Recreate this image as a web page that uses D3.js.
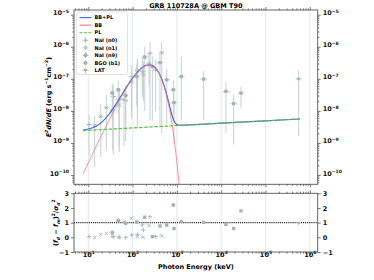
<!DOCTYPE html>
<html>
<head>
<meta charset="utf-8">
<script src="https://cdn.jsdelivr.net/npm/d3@7"></script>
<style>
  body { margin: 0; background: #fff; }
  svg { font-family: "DejaVu Sans", sans-serif; font-weight: bold; }
</style>
</head>
<body>
<svg id="chart" width="374" height="280"></svg>
<script>
// model curves (keV, erg s^-1 cm^-2)
const modelE = [7.6, 10, 15, 20, 30, 40, 50, 70, 100, 150, 200, 250, 300, 400, 500, 600, 700, 800, 900, 1000, 1100, 1150, 1500, 1e4, 1e5, 6e5];
const bbFlux = [1.08e-10, 2.41e-10, 7.80e-10, 1.77e-9, 5.46e-9, 1.18e-8, 2.10e-8, 4.75e-8, 1.02e-7, 1.98e-7, 2.59e-7, 2.69e-7, 2.41e-7, 1.43e-7, 6.58e-8, 2.58e-8, 9.0e-9, 2.9e-9, 8.8e-10, 2.5e-10, 7.0e-11, 3.6e-11, 0, 0, 0, 0];
const plFlux = [2.43e-9, 2.48e-9, 2.56e-9, 2.62e-9, 2.69e-9, 2.75e-9, 2.80e-9, 2.87e-9, 2.95e-9, 3.03e-9, 3.10e-9, 3.15e-9, 3.19e-9, 3.26e-9, 3.32e-9, 3.36e-9, 3.40e-9, 3.43e-9, 3.46e-9, 3.49e-9, 3.52e-9, 3.53e-9, 3.60e-9, 4.14e-9, 4.91e-9, 5.61e-9];

// data points: [E, flux, flux low, flux high, residual]
const n0Data = [
  [10.4, 3.77e-9, 3.85e-10, 7.7e-9, 0.05],
  [36.6, 2.83e-8, 4.4e-10, 6.5e-8, 0.05],
  [50, 2.24e-8, 5.1e-10, 4.56e-8, 0.0],
  [70, 2.08e-8, 1.12e-9, 4.56e-8, 0.0],
  [95.5, 1.18e-7, 1.0e-8, 2.7e-7, 0.15],
  [128, 1.9e-7, 3.0e-9, 4.5e-7, 0.2],
  [166, 1.68e-7, 3.0e-8, 4.5e-7, 0.84],
  [175, 1.33e-7, 2.0e-8, 3.0e-7, 0.5],
  [247, 6.25e-7, 5.0e-9, 1.4e-6, 1.4],
  [332, 1.9e-7, 1.0e-8, 4.0e-7, 0.05]
];
const n1Data = [
  [13.9, 3.58e-9, 1.76e-10, 7.0e-9, 0.0],
  [19.1, 6.8e-9, 3.58e-10, 1.57e-8, 0.2],
  [25.5, 1.26e-8, 5.5e-10, 3.2e-8, 0.27],
  [35.6, 1.02e-8, 6.0e-10, 2.5e-8, 0.05],
  [49.3, 1.5e-8, 7.0e-10, 3.5e-8, 0.0],
  [64, 2.24e-8, 8.0e-10, 5.0e-8, 1.08],
  [93.5, 8.0e-8, 6.0e-9, 1.8e-7, 1.3],
  [128, 1.65e-7, 1.2e-8, 3.5e-7, 0.05],
  [172, 1.68e-7, 2.5e-8, 4.0e-7, 0.0],
  [234, 3.06e-7, 6.0e-8, 6.0e-7, 0.8],
  [454, 6.5e-7, 2.0e-9, 1.4e-6, 0.1]
];
const n9Data = [
  [34.8, 3.6e-8, 5.0e-9, 7.0e-8, 0.32],
  [47.5, 4.56e-8, 8.0e-9, 9.0e-8, 1.15],
  [69.8, 3.0e-8, 4.0e-9, 6.5e-8, 0.96],
  [124, 1.18e-7, 1.5e-8, 2.8e-7, 1.05],
  [830, 4.56e-8, 8.0e-9, 9.0e-8, 2.2]
];
const bgoData = [
  [188, 4.8e-7, 1.0e-8, 1.0e-6, 1.37],
  [279, 2.4e-7, 5.0e-9, 5.0e-7, 0.05],
  [415, 3.2e-7, 3.0e-9, 7.0e-7, 0.77],
  [589, 9.3e-8, 4.0e-9, 2.0e-7, 0.84],
  [861, 1.81e-8, 9.0e-10, 4.0e-8, 0.6],
  [1257, 1.18e-7, 5.0e-9, 4.9e-7, 1.07],
  [4027, 9.8e-8, 5.1e-9, 1.8e-7, 1.02],
  [12800, 4.05e-8, 2.08e-9, 8.2e-8, 0.89],
  [19100, 1.68e-8, 9.1e-10, 3.2e-8, 0.6],
  [28000, 3.6e-8, 1.24e-8, 5.8e-8, 1.8]
];
const latData = [
  [561000, 9.8e-8, 1.64e-9, 1.8e-7, 0.96]
];

const detectors = [
  { name: 'NaI (n0)', data: n0Data, marker: '+', binDex: 0.06 },
  { name: 'NaI (n1)', data: n1Data, marker: 'x', binDex: 0.06 },
  { name: 'NaI (n9)', data: n9Data, marker: 'o', binDex: 0.06 },
  { name: 'BGO (b1)', data: bgoData, marker: 's', binDex: 0.08 },
  { name: 'LAT', data: latData, marker: 'v', binDex: 0.07 }
];

const energyTicks = [1e1, 1e2, 1e3, 1e4, 1e5, 1e6];
const energyExp = ['1', '2', '3', '4', '5', '6'];
const fluxTicks = [1e-10, 1e-9, 1e-8, 1e-7, 1e-6, 1e-5];
const fluxExp = ['\u221210', '\u22129', '\u22128', '\u22127', '\u22126', '\u22125'];
const resTicks = [-1, 0, 1, 2, 3];

const svg = d3.select('#chart');
const X0 = 74, X1 = 317.7, T0 = 10, T1 = 184.3, R0 = 193.3, R1 = 252;
const FS = 6.5;
const spineCol = '#555', markCol = '#a3b3b3', errCol = '#c6d1d1';

const x = d3.scaleLog().domain([4.75, 1.51e6]).range([X0, X1]);
const y = d3.scaleLog().domain([5.15e-11, 1.4e-5]).range([T1, T0]);
const yr = d3.scaleLinear().domain([-1, 3]).range([R1, R0]);

const defs = svg.append('defs');
defs.append('clipPath').attr('id', 'clipTop').append('rect')
  .attr('x', X0).attr('y', T0).attr('width', X1 - X0).attr('height', T1 - T0);
defs.append('clipPath').attr('id', 'clipRes').append('rect')
  .attr('x', X0).attr('y', R0).attr('width', X1 - X0).attr('height', R1 - R0);

// vertical grid
[[T0, T1], [R0, R1]].forEach(([a, b]) => {
  svg.append('g').selectAll('line').data(energyTicks).enter().append('line')
    .attr('x1', d => x(d)).attr('x2', d => x(d)).attr('y1', a).attr('y2', b)
    .attr('stroke', '#dde3e3').attr('stroke-width', 0.8);
});

function markerPath(type) {
  const s = 2.1;
  if (type === '+') return `M${-s},0H${s}M0,${-s}V${s}`;
  if (type === 'x') return `M${-s * 0.8},${-s * 0.8}L${s * 0.8},${s * 0.8}M${-s * 0.8},${s * 0.8}L${s * 0.8},${-s * 0.8}`;
  if (type === 'o') return d3.symbol(d3.symbolCircle, 13)();
  if (type === 's') return d3.symbol(d3.symbolSquare, 11)();
  return `M${-s},${-s * 0.7}L${s},${-s * 0.7}L0,${s}Z`;
}
function styleMarker(sel, type) {
  if (type === '+' || type === 'x') {
    sel.attr('fill', 'none').attr('stroke', markCol).attr('stroke-width', 0.9);
  } else {
    sel.attr('fill', markCol).attr('stroke', 'none');
  }
}

// data in the top panel
const gData = svg.append('g').attr('clip-path', 'url(#clipTop)');
detectors.forEach(det => {
  const g = gData.append('g');
  g.selectAll('line.ey').data(det.data).enter().append('line')
    .attr('x1', d => x(d[0])).attr('x2', d => x(d[0]))
    .attr('y1', d => y(d[2])).attr('y2', d => y(d[3]))
    .attr('stroke', errCol).attr('stroke-width', 1);
  g.selectAll('line.ex').data(det.data).enter().append('line')
    .attr('x1', d => x(d[0] / Math.pow(10, det.binDex))).attr('x2', d => x(d[0] * Math.pow(10, det.binDex)))
    .attr('y1', d => y(d[1])).attr('y2', d => y(d[1]))
    .attr('stroke', errCol).attr('stroke-width', 1);
  g.selectAll('path').data(det.data).enter().append('path')
    .attr('d', markerPath(det.marker))
    .attr('transform', d => `translate(${x(d[0])},${y(d[1])})`)
    .call(styleMarker, det.marker);
});

// model curves
const model = modelE.map((e, i) => ({ e: e, bb: bbFlux[i], pl: plFlux[i], tot: bbFlux[i] + plFlux[i] }));
const gModel = svg.append('g').attr('clip-path', 'url(#clipTop)');
const line = key => d3.line().x(d => x(d.e)).y(d => y(d[key])).curve(d3.curveMonotoneX);
gModel.append('path').datum(model).attr('d', line('tot'))
  .attr('fill', 'none').attr('stroke', '#4169e1').attr('stroke-width', 1.2);
gModel.append('path').datum(model.filter(d => d.bb > 0)).attr('d', line('bb'))
  .attr('fill', 'none').attr('stroke', '#f07878').attr('stroke-width', 0.9).attr('stroke-opacity', 0.85);
gModel.append('path').datum(model).attr('d', line('pl'))
  .attr('fill', 'none').attr('stroke', '#5cbf45').attr('stroke-width', 1.2).attr('stroke-dasharray', '3.5,1.6');

// residual panel
svg.append('line').attr('x1', X0).attr('x2', X1).attr('y1', yr(1)).attr('y2', yr(1))
  .attr('stroke', '#333').attr('stroke-width', 1.1).attr('stroke-dasharray', '1.2,0.9');
const gRes = svg.append('g').attr('clip-path', 'url(#clipRes)');
detectors.forEach(det => {
  gRes.append('g').selectAll('path').data(det.data).enter().append('path')
    .attr('d', markerPath(det.marker))
    .attr('transform', d => `translate(${x(d[0])},${yr(d[4])})`)
    .call(styleMarker, det.marker);
});

// rich text helper: parts = [text, shift(px), italic]
function rich(sel, parts, fs) {
  let cur = 0;
  parts.forEach(([t, shift, italic]) => {
    const sp = sel.append('tspan').text(t).attr('dy', shift - cur);
    if (shift !== 0) sp.attr('font-size', fs * 0.7);
    if (italic) sp.attr('font-style', 'italic');
    cur = shift;
  });
}
function powLabels(g, exps) {
  g.selectAll('.tick text').each(function (d, i) {
    const t = d3.select(this).text(null);
    rich(t, [['10', 0], [exps[i], -2.6]], FS);
  });
}
function minorLog(lo, hi) {
  const out = [];
  for (let k = Math.floor(Math.log10(lo)); k <= Math.ceil(Math.log10(hi)); k++) {
    for (let m = 2; m <= 9; m++) {
      const v = m * Math.pow(10, k);
      if (v > lo && v < hi) out.push(v);
    }
  }
  return out;
}
function styleAxis(g) {
  g.select('.domain').remove();
  g.selectAll('line').attr('stroke', spineCol).attr('stroke-width', 0.8);
  g.selectAll('text').attr('font-size', FS).attr('fill', '#111').attr('font-weight', 'bold')
    .attr('font-family', '"DejaVu Sans", sans-serif');
}

const xMinor = minorLog(4.75, 1.51e6);
const yMinor = minorLog(5.15e-11, 1.4e-5);

// top panel axes
svg.append('g').attr('transform', `translate(${X0},0)`)
  .call(d3.axisLeft(y).tickValues(fluxTicks).tickSize(3).tickPadding(2))
  .call(styleAxis).call(powLabels, fluxExp);
svg.append('g').attr('transform', `translate(${X1},0)`)
  .call(d3.axisRight(y).tickValues(fluxTicks).tickSize(3).tickPadding(2))
  .call(styleAxis).call(powLabels, fluxExp);
[[d3.axisLeft, X0], [d3.axisRight, X1]].forEach(([ax, px]) => {
  svg.append('g').attr('transform', `translate(${px},0)`)
    .call(ax(y).tickValues(yMinor).tickSize(1.6).tickFormat(''))
    .call(styleAxis);
});
[[d3.axisBottom, T1], [d3.axisTop, T0], [d3.axisBottom, R1], [d3.axisTop, R0]].forEach(([ax, py]) => {
  svg.append('g').attr('transform', `translate(0,${py})`)
    .call(ax(x).tickValues(energyTicks).tickSize(3).tickFormat(''))
    .call(styleAxis);
  svg.append('g').attr('transform', `translate(0,${py})`)
    .call(ax(x).tickValues(xMinor).tickSize(1.6).tickFormat(''))
    .call(styleAxis);
});

// residual axes
svg.append('g').attr('transform', `translate(${X0},0)`)
  .call(d3.axisLeft(yr).tickValues(resTicks).tickSize(3).tickPadding(2).tickFormat(d => d < 0 ? '\u2212' + (-d) : d))
  .call(styleAxis);
svg.append('g').attr('transform', `translate(${X1},0)`)
  .call(d3.axisRight(yr).tickValues(resTicks).tickSize(3).tickPadding(2).tickFormat(d => d < 0 ? '\u2212' + (-d) : d))
  .call(styleAxis);
svg.append('g').attr('transform', `translate(0,${R1})`)
  .call(d3.axisBottom(x).tickValues(energyTicks).tickSize(3).tickPadding(2))
  .call(styleAxis).call(powLabels, energyExp)
  .selectAll('.tick text').attr('dy', '0.95em');

// frames
[[T0, T1], [R0, R1]].forEach(([a, b]) => {
  svg.append('rect').attr('x', X0).attr('y', a).attr('width', X1 - X0).attr('height', b - a)
    .attr('fill', 'none').attr('stroke', spineCol).attr('stroke-width', 0.9);
});

// legend
const lg = svg.append('g');
lg.append('rect').attr('x', 76.5).attr('y', 12).attr('width', 51).attr('height', 62.5).attr('rx', 1.5)
  .attr('fill', '#fff').attr('fill-opacity', 0.85).attr('stroke', '#d0d0d0').attr('stroke-width', 0.6);
const legLines = [
  { name: 'BB+PL', color: '#4169e1', dash: null },
  { name: 'BB', color: '#f07878', dash: null },
  { name: 'PL', color: '#5cbf45', dash: '3,1.4' }
];
const ly = i => 17.6 + i * 7.55;
legLines.forEach((d, i) => {
  lg.append('line').attr('x1', 79.5).attr('x2', 91.5).attr('y1', ly(i)).attr('y2', ly(i))
    .attr('stroke', d.color).attr('stroke-width', 1.1).attr('stroke-dasharray', d.dash);
  lg.append('text').attr('x', 94.5).attr('y', ly(i)).attr('dy', '0.35em').attr('font-size', 5).text(d.name);
});
detectors.forEach((det, j) => {
  const i = j + 3, cy = ly(i), cx = 85.5;
  lg.append('line').attr('x1', cx).attr('x2', cx).attr('y1', cy - 3).attr('y2', cy + 3)
    .attr('stroke', errCol).attr('stroke-width', 1);
  lg.append('line').attr('x1', cx - 3).attr('x2', cx + 3).attr('y1', cy).attr('y2', cy)
    .attr('stroke', errCol).attr('stroke-width', 1);
  lg.append('path').attr('d', markerPath(det.marker)).attr('transform', `translate(${cx},${cy})`)
    .call(styleMarker, det.marker);
  lg.append('text').attr('x', 94.5).attr('y', cy).attr('dy', '0.35em').attr('font-size', 5).text(det.name);
});

// title and labels
svg.append('text').attr('x', (X0 + X1) / 2).attr('y', 8).attr('text-anchor', 'middle')
  .attr('font-size', 6.5).text('GRB 110728A @ GBM T90');
svg.append('text').attr('x', (X0 + X1) / 2).attr('y', 269).attr('text-anchor', 'middle')
  .attr('font-size', FS).text('Photon Energy (keV)');

const yl = svg.append('text').attr('transform', `translate(51,${(T0 + T1) / 2}) rotate(-90)`)
  .attr('text-anchor', 'middle').attr('font-size', FS);
rich(yl, [['E', 0, true], ['2', -2.6, true], ['dN/dE', 0, true], [' (erg s', 0], ['\u22121', -2.6], ['cm', 0], ['\u22122', -2.6], [')', 0]], FS);

const rl = svg.append('text').attr('transform', `translate(58,${(R0 + R1) / 2}) rotate(-90)`)
  .attr('text-anchor', 'middle').attr('font-size', FS);
rich(rl, [['(', 0], ['f', 0, true], ['d', 1.6, true], [' \u2212 ', 0], ['f', 0, true], ['m', 1.6, true], [')', 0], ['2', -2.6], ['/', 0], ['\u03c3', 0, true], ['d', 1.6, true], ['2', -2.6]], FS);
</script>
</body>
</html>
